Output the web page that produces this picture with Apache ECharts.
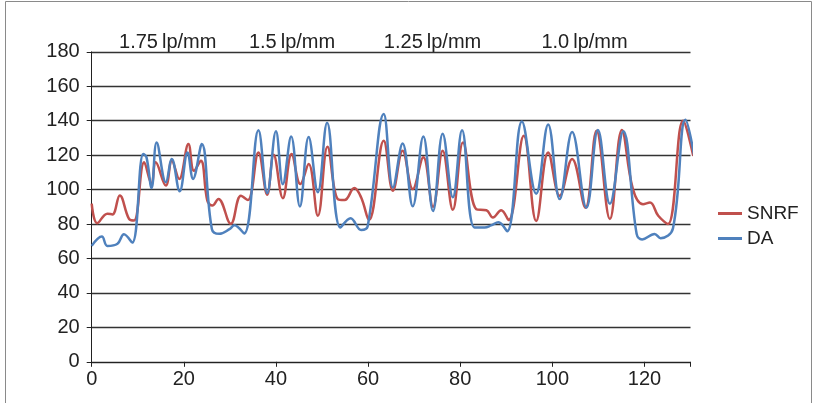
<!DOCTYPE html>
<html>
<head>
<meta charset="utf-8">
<script src="https://cdn.jsdelivr.net/npm/echarts@6/dist/echarts.min.js"></script>
<style>html,body{margin:0;padding:0;background:#fff}#c{width:814px;height:403px}</style>
</head>
<body>
<div id="c"></div>
<script>
// ---- data ----
var seriesNames = ['SNRF', 'DA'];
var xTicks = [0, 20, 40, 60, 80, 100, 120];
var yTicks = [0, 20, 40, 60, 80, 100, 120, 140, 160, 180];
var bandLabels = ['1.75\u2009lp/mm', '1.5\u2009lp/mm', '1.25\u2009lp/mm', '1.0\u2009lp/mm'];

var snrfX = [0, 1.2, 3.4, 4.5, 6.1, 8.1, 9.2, 11.4, 13.0, 13.9, 16.1, 17.4, 19.0, 21.0, 22.2, 23.7, 25.1, 26.2, 27.5, 30.2, 32.4, 33.9, 36.2, 38.1, 39.5, 41.5, 43.4, 45.3, 47.1, 49.1, 51.2, 53.4, 54.9, 57.0, 58.5, 60.2, 63.4, 65.4, 67.5, 69.7, 72.0, 74.1, 76.2, 78.4, 80.6, 83.5, 85.7, 87.1, 88.9, 90.5, 93.8, 96.5, 99.1, 101.6, 104.3, 107.2, 109.6, 112.5, 115.1, 117.5, 119.7, 121.2, 123.0, 125.1, 128.4, 130.6];
var snrfY = [91.8, 80.5, 86, 85.6, 96.6, 83, 82, 115.8, 103.2, 115.8, 102.3, 116.8, 106.2, 126.4, 110.9, 116.8, 93.6, 90.7, 94.6, 80.1, 96.4, 93.9, 121.6, 97, 120.2, 95, 120.6, 103.2, 114.8, 84.8, 124.9, 94.5, 93.9, 100.9, 95.4, 82.3, 128.3, 99.3, 122.6, 100.3, 118.8, 90, 122.6, 88.3, 127.4, 88.6, 88, 83.8, 88, 82.3, 131.2, 81.8, 121.6, 96.4, 117.8, 89.4, 134.2, 82.9, 134.6, 100.3, 91.5, 92.5, 84.8, 80, 139.9, 119.5];

var daX = [0, 2.2, 3.4, 5.6, 7.0, 8.8, 11.2, 11.9, 13.0, 14.1, 16.1, 17.4, 19.1, 20.8, 22.0, 23.9, 26.1, 27.7, 29.9, 31.0, 33.1, 36.2, 38.1, 40.0, 41.5, 43.3, 45.2, 47.1, 49.1, 51.1, 54.0, 56.2, 58.5, 59.9, 63.4, 65.4, 67.5, 69.7, 72.0, 74.1, 76.2, 78.4, 80.4, 83.1, 85.3, 86.7, 88.3, 90.2, 93.4, 96.5, 99.1, 101.6, 104.3, 107.4, 109.9, 112.5, 115.4, 118.3, 119.5, 122.2, 123.5, 126.2, 128.9, 131.3];
var daY = [67.3, 72.7, 67.3, 68.6, 74.1, 69.2, 120.6, 118.7, 100.9, 127.4, 104.2, 117.8, 99, 121.6, 106.2, 126.4, 77, 74.3, 77, 79.3, 74.5, 134.4, 98, 133.8, 103.1, 130.8, 90.2, 130.5, 98.5, 138.8, 78, 83.4, 76.5, 78.5, 143.9, 101.2, 126.7, 90.3, 130.8, 87.5, 132.4, 95.5, 134.4, 78, 78, 79.2, 81, 75.8, 139.6, 97.6, 137.8, 94.5, 133.4, 89.5, 134.6, 91.7, 133.9, 74.3, 71, 74.2, 71.8, 77.6, 140.5, 112];

// band label positions along x (data units)
var bandX = [16.5, 43.5, 74, 107];

function pairs(xs, ys) { return xs.map(function (x, i) { return [x, ys[i]]; }); }

var chart = echarts.init(document.getElementById('c'), null, { renderer: 'canvas' });
var FONT = 'Liberation Sans, Arial, sans-serif';
var option = {
  animation: false,
  backgroundColor: '#fff',
  grid: { left: 91.7, right: 123.5, top: 51.8, bottom: 41.2, containLabel: false },
  xAxis: {
    type: 'value', min: xTicks[0], max: 130, interval: 20,
    axisLine: { show: true, onZero: false, lineStyle: { color: '#222', width: 1 } },
    axisTick: { show: true, length: 5, lineStyle: { color: '#222' } },
    axisLabel: { color: '#222', fontSize: 20, fontFamily: FONT, margin: 8,
      formatter: function (v) { return xTicks.indexOf(v) >= 0 ? String(v) : ''; } },
    splitLine: { show: false }
  },
  yAxis: {
    type: 'value', min: yTicks[0], max: yTicks[yTicks.length - 1], interval: 20,
    axisLine: { show: true, lineStyle: { color: '#222', width: 1 } },
    axisTick: { show: true, length: 5, lineStyle: { color: '#222' } },
    axisLabel: { color: '#222', fontSize: 20, fontFamily: FONT, margin: 12 },
    splitLine: { show: true, lineStyle: { color: '#333', width: 1.3 } }
  },
  legend: {
    data: seriesNames, orient: 'vertical', left: 713, top: 199,
    itemWidth: 24, itemHeight: 3, itemGap: 6, icon: 'rect',
    textStyle: { color: '#222', fontSize: 19, fontFamily: FONT }
  },
  graphic: [
    { type: 'rect', silent: true, shape: { x: 5.5, y: 1.5, width: 806, height: 420 },
      style: { fill: 'none', stroke: '#8a8a8a', lineWidth: 1 } }
  ],
  series: [
    { name: seriesNames[0], type: 'line', data: pairs(snrfX, snrfY), smooth: 0.4, showSymbol: false,
      clip: false, lineStyle: { color: '#C0504D', width: 2.5 }, itemStyle: { color: '#C0504D' } },
    { name: seriesNames[1], type: 'line', data: pairs(daX, daY), smooth: 0.4, showSymbol: false,
      clip: false, lineStyle: { color: '#4F81BD', width: 2.5 }, itemStyle: { color: '#4F81BD' } }
  ]
};
chart.setOption(option);

// band labels placed through the axis scale
var gfx = option.graphic.slice();
bandLabels.forEach(function (t, i) {
  var p = chart.convertToPixel({ xAxisIndex: 0 }, bandX[i]);
  gfx.push({ type: 'text', silent: true, x: p, y: 42,
    style: { text: t, textAlign: 'center', textVerticalAlign: 'middle', fill: '#222', font: '20px ' + FONT } });
});
chart.setOption({ graphic: gfx });
</script>
</body>
</html>
